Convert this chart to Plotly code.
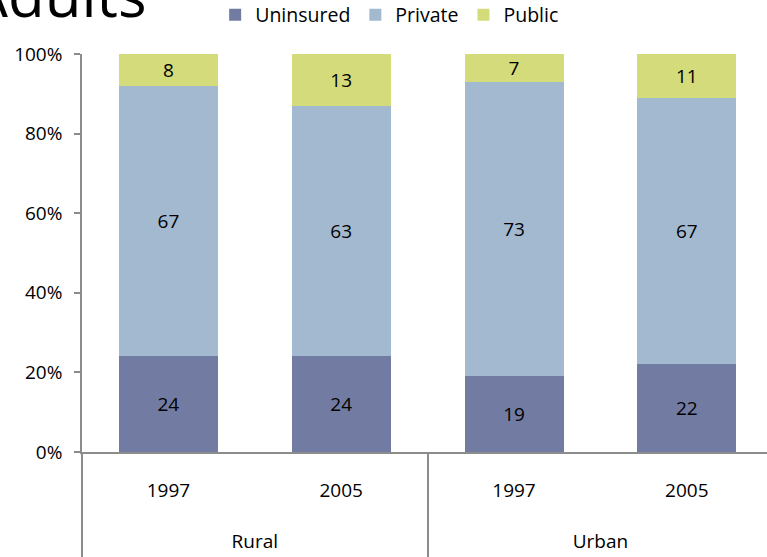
import plotly.graph_objects as go

regions = ["Rural", "Rural", "Urban", "Urban"]
years = ["1997", "2005", "1997", "2005"]
uninsured = [24, 24, 19, 22]
private = [67, 63, 73, 67]
public = [8, 13, 7, 11]

series = [
    ("Uninsured", uninsured, "#727ba1"),
    ("Private", private, "#a3b9d0"),
    ("Public", public, "#d4db7b"),
]

FONT = "Open Sans"
AXC = "#8c8c8c"
XRANGE = [-0.5, 3.464]

# unique category keys for each bar; years shown as tick text
keys = [f"{r} {y}" for r, y in zip(regions, years)]

# group (region) centres and boundaries in category-index units, derived from data
groups = []
for i, r in enumerate(regions):
    if not groups or groups[-1][0] != r:
        groups.append([r, i, i])
    else:
        groups[-1][2] = i
group_names = [g[0] for g in groups]
group_centres = [(g[1] + g[2]) / 2 for g in groups]
group_bounds = [groups[0][1] - 0.5] + [g[2] + 0.5 for g in groups]

fig = go.Figure()
for name, vals, col in series:
    fig.add_trace(go.Bar(
        name=name,
        x=keys,
        y=vals,
        text=[str(v) for v in vals],
        texttemplate="%{text}",
        textposition="inside",
        insidetextanchor="middle",
        textangle=0,
        constraintext="none",
        textfont=dict(family=FONT, size=19, color="black"),
        marker=dict(color=col, line=dict(width=0)),
    ))

# invisible helper trace so the group-label axis (x2) is drawn
fig.add_trace(go.Scatter(
    x=group_centres, y=[0] * len(group_centres),
    xaxis="x2", yaxis="y",
    mode="markers", marker=dict(opacity=0),
    showlegend=False, hoverinfo="skip",
))

fig.update_layout(
    width=767, height=557,
    margin=dict(l=82, r=0, t=54, b=105, autoexpand=False),
    barmode="stack",
    barnorm="percent",
    bargap=0.427,
    paper_bgcolor="white",
    plot_bgcolor="white",
    font=dict(family=FONT, size=19, color="black"),
    showlegend=True,
    legend=dict(
        orientation="h",
        x=0.1944, xanchor="left",
        y=1.098, yanchor="middle",
        font=dict(family=FONT, size=19.5, color="black"),
        traceorder="normal",
        bgcolor="rgba(0,0,0,0)",
    ),
    xaxis=dict(
        type="category",
        range=XRANGE,
        tickmode="array", tickvals=keys, ticktext=years,
        showline=True, linecolor=AXC, linewidth=2,
        ticks="",
        ticklabelstandoff=20,
        showgrid=False, zeroline=False,
        tickfont=dict(family=FONT, size=19, color="black"),
    ),
    xaxis2=dict(
        overlaying="x", anchor="y", side="bottom",
        type="linear",
        range=XRANGE,
        tickmode="array", tickvals=group_centres, ticktext=group_names,
        ticks="",
        minor=dict(tickmode="array", tickvals=group_bounds, ticks="outside",
                   ticklen=106, tickcolor=AXC, tickwidth=1.5, showgrid=False),
        ticklabelstandoff=76,
        showline=False, showgrid=False, zeroline=False,
        tickfont=dict(family=FONT, size=19, color="black"),
    ),
    yaxis=dict(
        range=[0, 100],
        tickmode="linear", tick0=0, dtick=20,
        ticksuffix="%",
        showline=True, linecolor=AXC, linewidth=1.5,
        ticks="outside", ticklen=6, tickcolor=AXC, tickwidth=1.5,
        ticklabelstandoff=8,
        showgrid=False, zeroline=False,
        tickfont=dict(family=FONT, size=19, color="black"),
    ),
    annotations=[dict(
        text="Adults",
        xref="paper", yref="paper",
        x=0.0978, y=1.0427,
        xanchor="right", yanchor="bottom",
        showarrow=False,
        font=dict(family=FONT, size=60, color="black"),
    )],
)

fig.write_html("out.html")
